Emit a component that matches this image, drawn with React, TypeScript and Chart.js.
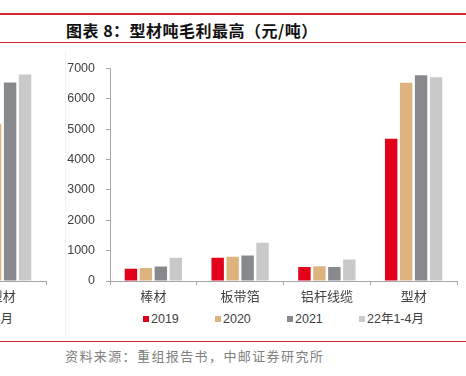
import React, { useEffect, useRef } from "react";
import { Chart, registerables } from "chart.js";

Chart.register(...registerables);

const categories = ["棒材", "板带箔", "铝杆线缆", "型材"];
const seriesLabels = ["2019", "2020", "2021", "22年1-4月"];
const v2019 = [400, 765, 465, 4690];
const v2020 = [430, 800, 485, 6530];
const v2021 = [475, 840, 465, 6775];
const v2022 = [765, 1260, 710, 6710];
// neighbouring chart, cut off at the left edge: only its visible bars
const n2019 = [null, null, null, null];
const n2020 = [null, null, null, 5180];
const n2021 = [null, null, null, 6540];
const n2022 = [null, null, null, 6800];
const yTicks = [0, 1000, 2000, 3000, 4000, 5000, 6000, 7000];
const colors = ["#E2001A", "#DDB47D", "#87898C", "#C9C9C9"];

const FONT = "'Liberation Sans', 'Noto Sans CJK SC', sans-serif";
const CJK = "'Noto Sans CJK SC', sans-serif";
const TEXT = "#404040";
const AXIS = "#A6A6A6";

function BarPanel({ series }: { series: (number | null)[][] }) {
  const ref = useRef<HTMLCanvasElement | null>(null);
  useEffect(() => {
    if (!ref.current) return;
    const chart = new Chart(ref.current, {
      type: "bar",
      data: {
        labels: categories,
        datasets: series.map((d, i) => ({
          label: seriesLabels[i],
          data: d,
          backgroundColor: colors[i],
          borderWidth: 0,
          categoryPercentage: 0.69,
          barPercentage: 0.83,
        })),
      },
      options: {
        responsive: false,
        animation: false,
        layout: { padding: { top: 13, right: 9, left: 0, bottom: 0 } },
        plugins: { legend: { display: false }, tooltip: { enabled: false } },
        scales: {
          x: {
            afterFit: (s: any) => { s.height = 29; },
            grid: { display: true, drawOnChartArea: false, drawTicks: true, tickLength: 4, color: AXIS, lineWidth: 1, offset: true },
            border: { display: true, color: AXIS, width: 1 },
            ticks: { color: TEXT, font: { family: FONT, size: 13 }, padding: 5, maxRotation: 0 },
          },
          y: {
            min: 0,
            max: 7000,
            afterFit: (s: any) => { s.width = 55; },
            afterBuildTicks: (s: any) => { s.ticks = yTicks.map((v) => ({ value: v })); },
            grid: { display: true, drawOnChartArea: false, drawTicks: true, tickLength: 4, color: AXIS, lineWidth: 1 },
            border: { display: true, color: AXIS, width: 1 },
            ticks: { color: TEXT, font: { family: FONT, size: 12.5 }, padding: 11, callback: (v: any) => String(v) },
          },
        },
      },
    });
    return () => chart.destroy();
  }, [series]);

  return (
    <div style={{ position: "relative", width: 411, height: 290 }}>
      <canvas ref={ref} width={411} height={260} style={{ position: "absolute", left: 0, top: 0 }} />
      <div style={{ position: "absolute", left: 88, top: 262, display: "flex", height: 14, alignItems: "center" }}>
        {seriesLabels.map((l, i) => (
          <div key={l} style={{ width: 72, display: "flex", alignItems: "center", whiteSpace: "nowrap" }}>
            <span style={{ width: 6, height: 6, background: colors[i], display: "inline-block", marginRight: 2 }} />
            <span style={{ fontFamily: FONT, fontSize: 12.5, color: TEXT, lineHeight: "14px" }}>{l}</span>
          </div>
        ))}
      </div>
    </div>
  );
}

const mainSeries = [v2019, v2020, v2021, v2022];
const sideSeries = [n2019, n2020, n2021, n2022];

export default function App() {
  return (
    <div style={{ position: "fixed", left: 0, top: 0, width: 466, height: 376, background: "#fff", overflow: "hidden" }}>
      <div style={{ position: "absolute", left: 0, top: 13, width: 466, height: 2, background: "#D7262E" }} />
      <div style={{ position: "absolute", left: 66, top: 18, height: 24, lineHeight: "24px", fontFamily: CJK, fontWeight: 700, fontSize: 16, letterSpacing: 0.5, color: "#111" }}>
        图表 8：型材吨毛利最高（元/吨）
      </div>
      <div style={{ position: "absolute", left: 0, top: 42, width: 466, height: 1, background: "#D7262E" }} />

      <div style={{ position: "absolute", left: 0, top: 0, width: 65, height: 340, overflow: "hidden" }}>
        <div style={{ position: "absolute", left: -356, top: 50 }}>
          <BarPanel series={sideSeries} />
        </div>
      </div>
      <div style={{ position: "absolute", left: 65, top: 50, width: 1, height: 285, background: "#F2F2F2" }} />

      <div style={{ position: "absolute", left: 55, top: 50 }}>
        <BarPanel series={mainSeries} />
      </div>

      <div style={{ position: "absolute", left: 0, top: 341, width: 466, height: 1, background: "#D7262E" }} />
      <div style={{ position: "absolute", left: 65, top: 346, height: 20, lineHeight: "20px", fontFamily: CJK, fontSize: 13, letterSpacing: 1.4, color: "#808080" }}>
        资料来源：重组报告书，中邮证券研究所
      </div>
    </div>
  );
}
